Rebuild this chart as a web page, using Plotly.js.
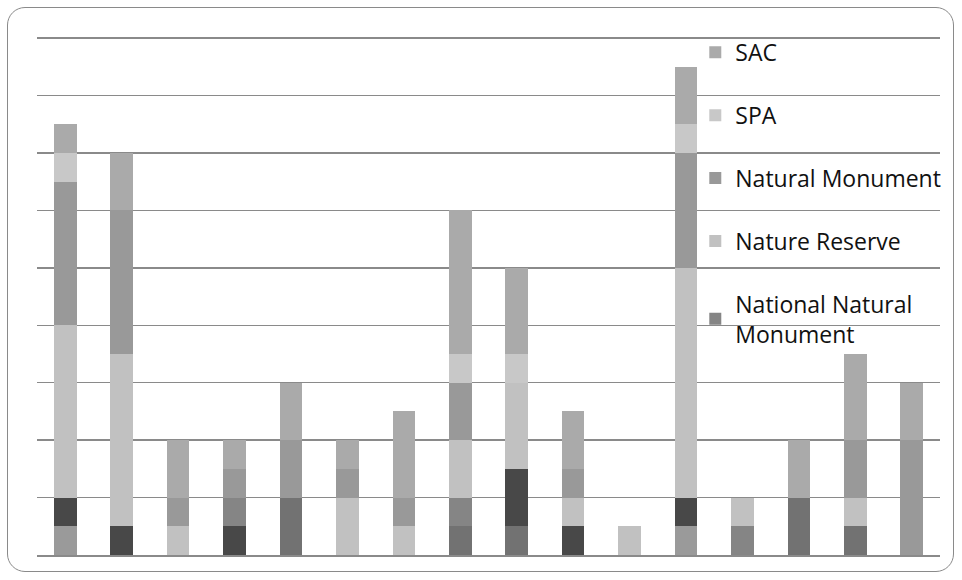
<!DOCTYPE html>
<html>
<head>
<meta charset="utf-8">
<script src="https://cdn.plot.ly/plotly-3.0.1.min.js"></script>
<style>
  html, body { margin: 0; padding: 0; background: #ffffff; }
  #wrap { position: relative; width: 962px; height: 580px; }
  #chart { position: absolute; left: 0; top: 0; width: 962px; height: 580px; }
  #frame { position: absolute; left: 7px; top: 7px; width: 945px; height: 563px;
           border: 1.5px solid #8a8a8a; border-radius: 18px; pointer-events: none; }
</style>
</head>
<body>
<div id="wrap">
  <div id="chart"></div>
  <div id="frame"></div>
</div>
<script>
// Categories (no labels shown in the original)
const categories = ["1","2","3","4","5","6","7","8","9","10","11","12","13","14","15","16"];

// Series values, bottom of stack first
const seriesA = [0.5,0,0,0,0,0,0,0,0,0,0,0.5,0,0,0,0];          // hidden in legend
const seriesB = [0,0,0,0,1.0,0,0,0.5,0.5,0,0,0,0,1.0,0.5,0];    // hidden in legend
const seriesC = [0.5,0.5,0,0.5,0,0,0,0,1.0,0.5,0,0.5,0,0,0,0];  // hidden in legend
const nationalNaturalMonument = [0,0,0,0.5,0,0,0,0.5,0,0,0,0,0.5,0,0,0];
const natureReserve = [3.0,3.0,0.5,0,0,1.0,0.5,1.0,1.5,0.5,0.5,4.0,0.5,0,0.5,0];
const naturalMonument = [2.5,2.5,0.5,0.5,1.0,0.5,0.5,1.0,0,0.5,0,2.0,0,0,1.0,2.0];
const spa = [0.5,0,0,0,0,0,0,0.5,0.5,0,0,0.5,0,0,0,0];
const sac = [0.5,1.0,1.0,0.5,1.0,0.5,1.5,2.5,1.5,1.0,0,1.0,0,1.0,1.5,1.0];

const seriesNames = ["Series A","Series B","Series C","National Natural<br>Monument","Nature Reserve","Natural Monument","SPA","SAC"];
const seriesData = [seriesA, seriesB, seriesC, nationalNaturalMonument, natureReserve, naturalMonument, spa, sac];
const seriesColors = ["#9a9a9a","#727272","#484848","#858585","#c1c1c1","#999999","#c8c8c8","#aaaaaa"];
const inLegend = [false,false,false,true,true,true,true,true];

const traces = seriesData.map((vals, i) => ({
  type: "bar",
  x: categories,
  y: vals,
  name: seriesNames[i],
  legendgroup: "g" + i,
  legendrank: 100 - i,
  showlegend: inLegend[i],
  marker: { color: seriesColors[i], line: { width: 0 } },
  hoverinfo: "skip"
}));

const layout = {
  width: 962,
  height: 580,
  margin: { l: 37, r: 22, t: 37, b: 25, pad: 0, autoexpand: false },
  paper_bgcolor: "#ffffff",
  plot_bgcolor: "rgba(0,0,0,0)",
  barmode: "stack",
  bargap: 0.6,
  showlegend: true,
  font: { family: "Open Sans, sans-serif", color: "#111111" },
  xaxis: {
    type: "category",
    range: [-0.5, 15.5],
    showticklabels: false,
    ticks: "",
    showgrid: false,
    zeroline: false,
    showline: true,
    linecolor: "#8a8a8a",
    linewidth: 1.5
  },
  yaxis: {
    range: [0, 9.02],
    dtick: 1,
    showticklabels: false,
    ticks: "",
    showgrid: true,
    gridcolor: "#8a8a8a",
    gridwidth: 1.5,
    zeroline: false,
    showline: false
  },
  legend: {
    x: 0.729,
    xanchor: "left",
    y: 1.012,
    yanchor: "top",
    bgcolor: "rgba(0,0,0,0)",
    borderwidth: 0,
    traceorder: "grouped",
    tracegroupgap: 30,
    maxheight: 1000,
    font: { family: "Open Sans, sans-serif", size: 23, color: "#111111" },
    itemwidth: 30
  }
};

Plotly.newPlot("chart", traces, layout, { displayModeBar: false, staticPlot: true });
</script>
</body>
</html>
